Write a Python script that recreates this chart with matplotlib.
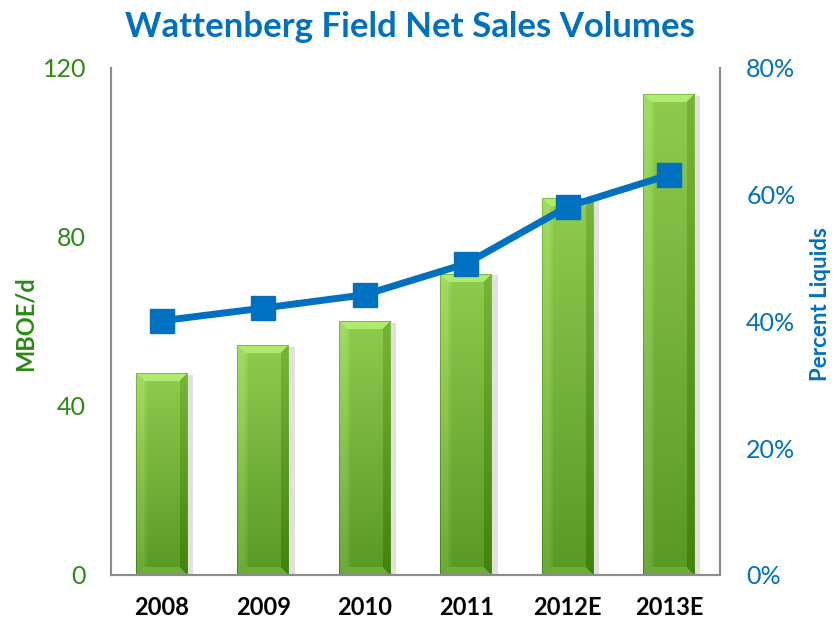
import matplotlib
matplotlib.use("Agg")
import matplotlib.pyplot as plt
import numpy as np
import matplotlib.patheffects as pe
from matplotlib.colors import to_rgb

categories = ["2008", "2009", "2010", "2011", "2012E", "2013E"]
volumes = [47.6, 54.2, 59.9, 71.2, 89.0, 113.6]          # MBOE/d
pct_liquids = [40.1, 42.1, 44.2, 49.1, 58.1, 63.1]       # percent
left_ticks = [0, 40, 80, 120]
right_ticks = [0, 20, 40, 60, 80]

GREEN = "#2A8A12"
BLUE = "#0070C0"
plt.rcParams["font.family"] = ["Lato", "DejaVu Sans"]

fig = plt.figure(figsize=(8.35, 6.22), dpi=100)
ax = fig.add_axes([0.133, 0.0756, 0.729, 0.8154])
ax2 = ax.twinx()

x = np.arange(len(categories))
ax.set_xlim(-0.5, len(categories) - 0.5)
ax.set_ylim(0, 120)

bars = ax.bar(x, volumes, width=0.51, color="#78B83C", linewidth=0, zorder=2,
              path_effects=[pe.SimplePatchShadow(offset=(4, -1), shadow_rgbFace="#9a9a9a", alpha=0.3),
                            pe.Normal()])

top_c = np.array(to_rgb("#8FCB4E"))
bot_c = np.array(to_rgb("#5A9826"))
fig.canvas.draw()
bevel = 8.0
for b in bars:
    x0, y0 = b.get_x(), b.get_y()
    w, h = b.get_width(), b.get_height()
    p0 = ax.transData.transform((x0, y0))
    p1 = ax.transData.transform((x0 + w, y0 + h))
    W = max(int(round(p1[0] - p0[0])), 2)
    H = max(int(round(p1[1] - p0[1])), 2)
    jj, ii = np.meshgrid(np.arange(W) + 0.5, np.arange(H) + 0.5)  # ii from top
    t = (ii / H)[..., None]
    face = top_c * (1 - t) + bot_c * t
    dl, dr, dt, db = jj, W - jj, ii, H - ii
    dmin = np.minimum(np.minimum(dl, dr), np.minimum(dt, db))
    img = face.copy()
    inb = dmin < bevel
    left = inb & (dl == dmin)
    right = inb & (dr == dmin) & ~left
    top = inb & (dt == dmin) & ~left & ~right
    bottom = inb & (db == dmin) & ~left & ~right & ~top
    img[left] = np.clip(face[left] + 0.07, 0, 1)
    img[right] = np.clip(face[right] - 0.09, 0, 1)
    img[top] = np.clip(face[top] + 0.13, 0, 1)
    img[bottom] = np.clip(face[bottom] + 0.08, 0, 1)
    stripe = (~inb) & (dl < bevel + 3)
    img[stripe] = np.clip(face[stripe] + 0.04, 0, 1)
    edge = dmin < 1.0
    img[edge] = np.clip(face[edge] - 0.06, 0, 1)
    ax.imshow(img, aspect="auto", extent=[x0, x0 + w, y0, y0 + h],
              origin="upper", zorder=2.5, interpolation="bilinear")

ax.set_xlim(-0.5, len(categories) - 0.5)
ax.set_ylim(0, 120)
ax.set_yticks(left_ticks)
ax.set_yticklabels([str(t) for t in left_ticks], color=GREEN, fontsize=18)
ax.set_xticks(x)
ax.set_xticklabels(categories, fontsize=17, fontweight="bold", color="black")
ax.tick_params(axis="y", length=0, pad=18)
ax.tick_params(axis="x", length=0, pad=15)
ax.set_ylabel("MBOE/d", color=GREEN, fontsize=17, fontweight="bold")
ax.yaxis.label.set_va("center")
ax.yaxis.label.set_ha("center")
ax.yaxis.set_label_coords(-0.141, 0.495)

ax2.plot(x, pct_liquids, color=BLUE, linewidth=5, marker="s", markersize=17,
         markerfacecolor=BLUE, markeredgecolor=BLUE, zorder=5)
ax2.set_ylim(0, 80)
ax2.set_yticks(right_ticks)
ax2.set_yticklabels([f"{t}%" for t in right_ticks], color=BLUE, fontsize=18)
ax2.tick_params(axis="y", length=0, pad=19)
ax2.set_ylabel("Percent Liquids", color=BLUE, fontsize=16, fontweight="bold")
ax2.yaxis.label.set_va("center")
ax2.yaxis.label.set_ha("center")
ax2.yaxis.set_label_coords(1.166, 0.535)

for a in (ax, ax2):
    a.spines["top"].set_visible(False)
    for s in ("left", "right", "bottom"):
        a.spines[s].set_color("#8c8c8c")
        a.spines[s].set_linewidth(1.5)
ax.set_zorder(1)
ax2.set_zorder(2)
ax2.patch.set_visible(False)

fig.text(0.491, 0.957, "Wattenberg Field Net Sales Volumes", color=BLUE, fontsize=25,
         fontweight="bold", ha="center", va="center")

fig.savefig("out.png", dpi=100)
